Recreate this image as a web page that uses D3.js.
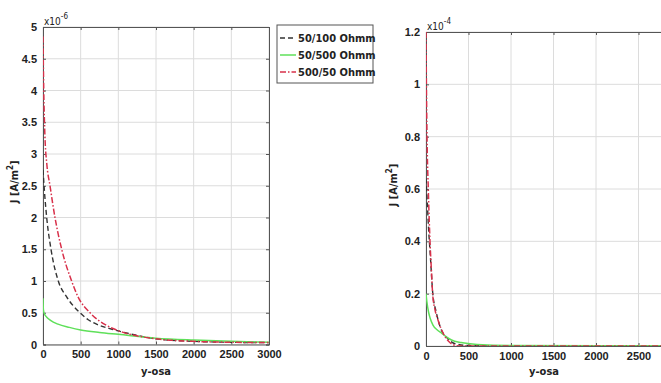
<!DOCTYPE html>
<html lang="en">
<head>
  <meta charset="UTF-8">
  <title>J vs y-osa</title>
  <script src="https://cdnjs.cloudflare.com/ajax/libs/d3/7.8.5/d3.min.js"></script>
  <style>
    body { margin: 0; background: #fff; }
    svg { display: block; font-family: "DejaVu Sans Condensed", "DejaVu Sans", sans-serif; }
    .tick text { font-size: 11px; font-weight: bold; fill: #222; }
    .domain { stroke: #555; }
    .tick line { stroke: #555; }
  </style>
</head>
<body>
<svg id="chart" width="661" height="383"></svg>
<script>
  // tick values
  const xTicks = [0, 500, 1000, 1500, 2000, 2500, 3000];
  const leftYTicks = [0, 0.5, 1, 1.5, 2, 2.5, 3, 3.5, 4, 4.5, 5];
  const rightYTicks = [0, 0.2, 0.4, 0.6, 0.8, 1, 1.2];
  const seriesNames = ["50/100 Ohmm", "50/500 Ohmm", "500/50 Ohmm"];

  // left panel, values x1e-6
  const left100 = [[0, 2.75], [20, 2.4], [49, 2.0], [106, 1.5], [203, 1.0], [314, 0.75], [491, 0.5],
    [600, 0.39], [730, 0.31], [917, 0.24], [1044, 0.2], [1500, 0.09], [2000, 0.05], [2500, 0.035], [3000, 0.03]];
  const left500 = [[0, 0.73], [5, 0.55], [20, 0.48], [50, 0.43], [100, 0.38], [200, 0.32], [350, 0.27],
    [500, 0.23], [750, 0.19], [1000, 0.16], [1500, 0.1], [2000, 0.07], [2500, 0.05], [3000, 0.035]];
  const left50 = [[0, 4.85], [10, 4.0], [25, 3.3], [50, 2.85], [93, 2.5], [159, 2.0], [248, 1.5], [380, 1.0],
    [465, 0.75], [624, 0.5], [845, 0.3], [1044, 0.2], [1500, 0.09], [2000, 0.05], [2500, 0.035], [3000, 0.03]];

  // right panel, values x1e-4
  const right100 = [[0, 0.64], [15, 0.55], [30, 0.45], [50, 0.35], [80, 0.2], [120, 0.13], [170, 0.07],
    [250, 0.03], [350, 0.008], [500, 0.002], [1000, 0.001], [3000, 0.001]];
  const right500 = [[0, 0.2], [10, 0.17], [30, 0.13], [50, 0.105], [82, 0.08], [130, 0.062], [180, 0.05],
    [240, 0.035], [300, 0.023], [414, 0.013], [600, 0.006], [1000, 0.002], [3000, 0.001]];
  const right50 = [[0, 1.2], [5, 1.0], [12, 0.8], [27, 0.6], [47, 0.4], [62, 0.3], [78, 0.2], [105, 0.14],
    [140, 0.1], [200, 0.05], [260, 0.02], [320, 0.005], [400, 0.0], [3000, 0.0]];

  const styles = [
    { color: "#333", width: 1.4, dash: "5,3" },
    { color: "#5fe05a", width: 1.5, dash: null },
    { color: "#d8304a", width: 1.5, dash: "6,2,1.5,2" }
  ];

  const W = 661;
  const svg = d3.select("#chart");

  function panel(cfg) {
    const x = d3.scaleLinear().domain([0, 3000]).range([cfg.x0, cfg.x1]);
    const y = d3.scaleLinear().domain(cfg.yDomain).range([cfg.yBot, cfg.yTop]);
    const g = svg.append("g");
    const clipId = "clip" + cfg.id;
    g.append("clipPath").attr("id", clipId).append("rect")
      .attr("x", cfg.x0).attr("y", cfg.yTop - 2)
      .attr("width", cfg.x1 - cfg.x0).attr("height", cfg.yBot - cfg.yTop + 2);

    // grid
    g.append("g").selectAll("line").data(xTicks).join("line")
      .attr("x1", d => x(d)).attr("x2", d => x(d))
      .attr("y1", cfg.yTop).attr("y2", cfg.yBot)
      .attr("stroke", "#dcdcdc");
    g.append("g").selectAll("line").data(cfg.yTicks).join("line")
      .attr("x1", cfg.x0).attr("x2", cfg.x1)
      .attr("y1", d => y(d)).attr("y2", d => y(d))
      .attr("stroke", "#dcdcdc");

    // axes box (labels only for ticks that fit in the window)
    g.append("g").attr("transform", `translate(0,${cfg.yBot})`)
      .call(d3.axisBottom(x).tickValues(xTicks).tickSize(-3).tickPadding(6)
        .tickFormat(d => x(d) + 14 < W ? d3.format("d")(d) : ""));
    g.append("g").attr("transform", `translate(0,${cfg.yTop})`)
      .call(d3.axisTop(x).tickValues(xTicks).tickSize(-3).tickFormat(""));
    g.append("g").attr("transform", `translate(${cfg.x0},0)`)
      .call(d3.axisLeft(y).tickValues(cfg.yTicks).tickSize(-3).tickPadding(6).tickFormat(d => String(+d.toFixed(1))));
    g.append("g").attr("transform", `translate(${cfg.x1},0)`)
      .call(d3.axisRight(y).tickValues(cfg.yTicks).tickSize(-3).tickFormat(""));
    g.selectAll(".domain").attr("stroke", "#666");

    // curves
    const line = d3.line().x(d => x(d[0])).y(d => y(d[1])).curve(d3.curveMonotoneX);
    const lines = g.append("g").attr("clip-path", `url(#${clipId})`);
    cfg.series.forEach((s, i) => {
      lines.append("path").datum(s)
        .attr("d", line)
        .attr("fill", "none")
        .attr("stroke", styles[i].color)
        .attr("stroke-width", styles[i].width)
        .attr("stroke-dasharray", styles[i].dash);
    });

    // exponent
    const ex = g.append("text").attr("x", cfg.x0 + 1).attr("y", cfg.yTop - 2)
      .attr("font-size", 10).attr("fill", "#222");
    ex.append("tspan").text("x10");
    ex.append("tspan").attr("dy", -6).attr("font-size", 8).text(cfg.exp);

    // labels
    g.append("text").attr("x", cfg.xLabelX).attr("y", 375)
      .attr("text-anchor", "middle").attr("font-size", 11).attr("font-weight", "bold").attr("fill", "#222")
      .text("y-osa");
    const yl = g.append("text")
      .attr("transform", `translate(${cfg.yLabelX},${(cfg.yTop + cfg.yBot) / 2 - 4}) rotate(-90)`)
      .attr("text-anchor", "middle").attr("font-size", 11).attr("font-weight", "bold").attr("fill", "#222");
    yl.append("tspan").text("J [A/m");
    yl.append("tspan").attr("dy", -5).attr("font-size", 8).text("2");
    yl.append("tspan").attr("dy", 5).text("]");
  }

  panel({ id: "L", x0: 43, x1: 269, yTop: 27, yBot: 344.5, yDomain: [0, 5], yTicks: leftYTicks,
    series: [left100, left500, left50], exp: "-6", xLabelX: 156, yLabelX: 18 });
  panel({ id: "R", x0: 426, x1: 681, yTop: 32, yBot: 346, yDomain: [0, 1.2], yTicks: rightYTicks,
    series: [right100, right500, right50], exp: "-4", xLabelX: 544, yLabelX: 397 });

  // legend
  const lg = svg.append("g").attr("transform", "translate(277,25)");
  lg.append("rect").attr("width", 96).attr("height", 58)
    .attr("fill", "#fff").attr("stroke", "#555");
  seriesNames.forEach((name, i) => {
    const yy = 13 + i * 17;
    lg.append("line").attr("x1", 3).attr("x2", 19).attr("y1", yy).attr("y2", yy)
      .attr("stroke", styles[i].color).attr("stroke-width", styles[i].width)
      .attr("stroke-dasharray", styles[i].dash);
    lg.append("text").attr("x", 21).attr("y", yy + 4)
      .attr("font-size", 11).attr("font-weight", "bold").attr("fill", "#222")
      .text(name);
  });
</script>
</body>
</html>
